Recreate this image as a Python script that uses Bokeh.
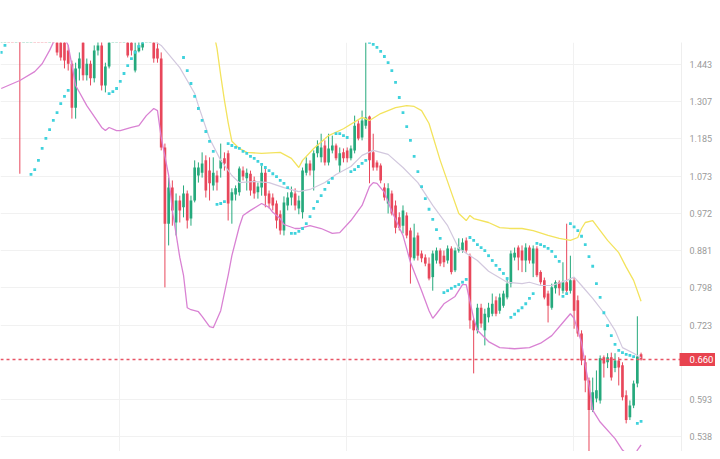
from bokeh.plotting import figure
from bokeh.models import Range1d, FixedTicker, PrintfTickFormatter, Label, ColumnDataSource
from bokeh.embed import file_html
from bokeh.resources import INLINE

# ---------------- data ----------------
open_ = [1.62, 1.66, 1.70, 1.67, 1.64, 1.68, 1.62, 1.66, 1.70, 1.74,
         1.71, 1.68, 1.64, 1.61, 1.63, 1.59, 1.55, 1.54, 1.498, 1.446,
         1.287, 1.428, 1.53, 1.402, 1.446, 1.391, 1.498, 1.518, 1.365, 1.435,
         1.56, 1.60, 1.64, 1.61, 1.62, 1.53, 1.420, 1.495, 1.51, 1.56,
         1.60, 1.63, 1.506, 1.466, 1.158, 0.946, 1.041, 0.949, 1.006, 0.988,
         1.025, 0.959, 1.006, 1.075, 1.083, 1.119, 1.089, 1.047, 1.075, 1.095,
         1.125, 1.140, 1.006, 1.022, 1.028, 1.089, 1.067, 1.080, 1.061, 1.028,
         1.041, 1.083, 1.025, 1.014, 0.998, 0.970, 0.929, 0.993, 1.014, 1.025,
         0.985, 0.975, 1.083, 1.110, 1.089, 1.140, 1.128, 1.164, 1.113, 1.149,
         1.164, 1.104, 1.143, 1.149, 1.125, 1.149, 1.234, 1.189, 1.227, 1.257,
         1.143, 1.113, 1.104, 1.041, 0.998, 1.025, 0.993, 0.962, 0.941, 0.967,
         0.929, 0.863, 0.917, 0.874, 0.865, 0.851, 0.821, 0.858, 0.881, 0.869,
         0.858, 0.886, 0.836, 0.881, 0.881, 0.905, 0.869, 0.732, 0.713, 0.757,
         0.713, 0.738, 0.745, 0.772, 0.751, 0.761, 0.778, 0.807, 0.865, 0.888,
         0.881, 0.858, 0.888, 0.851, 0.886, 0.832, 0.814, 0.786, 0.757, 0.797,
         0.810, 0.792, 0.810, 0.792, 0.814, 0.772, 0.707, 0.655, 0.624, 0.577,
         0.595, 0.592, 0.664, 0.655, 0.664, 0.645, 0.658, 0.650, 0.600, 0.566,
         0.584, 0.619, 0.669]

close = [1.66, 1.70, 1.67, 1.64, 1.68, 1.62, 1.66, 1.70, 1.74, 1.71,
         1.68, 1.64, 1.61, 1.63, 1.59, 1.490, 1.470, 1.458, 1.446, 1.287,
         1.428, 1.466, 1.402, 1.446, 1.391, 1.498, 1.518, 1.365, 1.435, 1.56,
         1.60, 1.64, 1.61, 1.65, 1.478, 1.498, 1.498, 1.518, 1.56, 1.60,
         1.63, 1.466, 1.466, 1.158, 0.946, 1.041, 0.980, 1.006, 0.980, 1.025,
         0.954, 1.006, 1.098, 1.098, 1.110, 1.033, 1.053, 1.083, 1.055, 1.119,
         1.110, 0.998, 1.028, 1.039, 1.095, 1.072, 1.083, 1.033, 1.025, 1.044,
         1.083, 1.019, 0.998, 0.993, 0.954, 0.929, 1.001, 1.014, 1.028, 0.993,
         1.006, 1.089, 1.110, 1.089, 1.140, 1.164, 1.158, 1.113, 1.155, 1.164,
         1.125, 1.140, 1.125, 1.125, 1.155, 1.227, 1.186, 1.244, 1.254, 1.119,
         1.098, 1.098, 1.061, 1.014, 1.039, 0.972, 0.936, 0.936, 0.980, 0.917,
         0.865, 0.912, 0.869, 0.863, 0.851, 0.818, 0.874, 0.881, 0.851, 0.854,
         0.886, 0.832, 0.881, 0.888, 0.900, 0.881, 0.732, 0.713, 0.757, 0.726,
         0.745, 0.757, 0.765, 0.745, 0.778, 0.786, 0.807, 0.874, 0.876, 0.865,
         0.858, 0.888, 0.858, 0.886, 0.825, 0.810, 0.778, 0.761, 0.799, 0.810,
         0.797, 0.810, 0.792, 0.814, 0.751, 0.707, 0.658, 0.624, 0.577, 0.605,
         0.608, 0.662, 0.653, 0.664, 0.629, 0.658, 0.646, 0.597, 0.562, 0.584,
         0.619, 0.665, 0.660]

high = [1.69, 1.73, 1.74, 1.71, 1.70, 1.71, 1.68, 1.73, 1.76, 1.77,
        1.74, 1.70, 1.66, 1.66, 1.65, 1.61, 1.57, 1.56, 1.518, 1.458,
        1.450, 1.490, 1.55, 1.466, 1.458, 1.518, 1.535, 1.535, 1.450, 1.58,
        1.62, 1.66, 1.67, 1.68, 1.64, 1.55, 1.53, 1.535, 1.58, 1.62,
        1.66, 1.65, 1.53, 1.490, 1.170, 1.069, 1.061, 1.025, 1.019, 1.047,
        1.033, 1.019, 1.119, 1.113, 1.143, 1.134, 1.128, 1.128, 1.089, 1.170,
        1.143, 1.149, 1.039, 1.047, 1.101, 1.101, 1.095, 1.089, 1.072, 1.055,
        1.104, 1.095, 1.033, 1.025, 1.006, 0.980, 1.017, 1.028, 1.044, 1.039,
        1.019, 1.098, 1.128, 1.119, 1.149, 1.180, 1.201, 1.180, 1.201, 1.195,
        1.170, 1.158, 1.155, 1.158, 1.164, 1.260, 1.244, 1.277, 1.530, 1.260,
        1.201, 1.119, 1.110, 1.053, 1.053, 1.033, 1.006, 0.975, 0.993, 0.975,
        0.936, 0.946, 0.924, 0.881, 0.872, 0.865, 0.881, 0.888, 0.886, 0.881,
        0.893, 0.891, 0.888, 0.910, 0.910, 0.912, 0.874, 0.736, 0.765, 0.765,
        0.755, 0.767, 0.786, 0.780, 0.786, 0.792, 0.820, 0.881, 0.888, 0.893,
        0.893, 0.898, 0.893, 0.893, 0.891, 0.836, 0.820, 0.792, 0.807, 0.814,
        0.814, 0.854, 0.946, 0.869, 0.820, 0.782, 0.713, 0.667, 0.629, 0.629,
        0.641, 0.667, 0.667, 0.671, 0.672, 0.671, 0.664, 0.655, 0.608, 0.592,
        0.624, 0.740, 0.672]

low = [1.58, 1.64, 1.63, 1.60, 1.61, 1.080, 1.59, 1.64, 1.68, 1.68,
       1.65, 1.61, 1.58, 1.57, 1.56, 1.478, 1.458, 1.428, 1.420, 1.250,
       1.250, 1.383, 1.383, 1.383, 1.365, 1.376, 1.478, 1.347, 1.340, 1.428,
       1.545, 1.58, 1.59, 1.60, 1.470, 1.478, 1.413, 1.490, 1.498, 1.545,
       1.58, 1.450, 1.450, 1.149, 0.799, 0.893, 0.941, 0.917, 0.949, 0.962,
       0.934, 0.941, 1.001, 1.055, 1.069, 1.014, 1.006, 1.033, 1.033, 1.069,
       1.089, 0.954, 0.946, 1.006, 1.019, 1.061, 1.033, 1.019, 1.011, 1.011,
       1.019, 0.988, 0.985, 0.980, 0.934, 0.919, 0.917, 0.980, 0.993, 0.980,
       0.970, 0.959, 1.075, 1.075, 1.033, 1.128, 1.113, 1.104, 1.104, 1.140,
       1.119, 1.083, 1.113, 1.113, 1.119, 1.140, 1.180, 1.180, 1.217, 1.053,
       1.089, 1.089, 1.053, 1.006, 0.972, 0.967, 0.922, 0.929, 0.922, 0.910,
       0.807, 0.858, 0.858, 0.854, 0.845, 0.814, 0.792, 0.851, 0.845, 0.843,
       0.851, 0.827, 0.832, 0.876, 0.876, 0.876, 0.716, 0.636, 0.707, 0.718,
       0.685, 0.728, 0.740, 0.740, 0.745, 0.757, 0.774, 0.799, 0.858, 0.836,
       0.832, 0.832, 0.851, 0.821, 0.821, 0.805, 0.774, 0.728, 0.753, 0.786,
       0.782, 0.786, 0.788, 0.786, 0.716, 0.701, 0.650, 0.605, 0.492, 0.574,
       0.589, 0.587, 0.629, 0.645, 0.624, 0.638, 0.616, 0.592, 0.557, 0.562,
       0.580, 0.613, 0.658]

# Bollinger bands (upper / middle / lower), read at candle positions
upper_idx = [57, 58, 59, 60, 61, 62, 64, 66, 70, 75, 78, 80, 81, 84, 88, 92, 97, 99, 102, 106,
             109, 111, 113, 115, 118, 121, 123, 125, 126, 127, 131, 134, 137, 140, 143, 147, 150,
             153, 155, 156, 157, 159, 160, 163, 166, 168, 170, 172]
upper = [1.579, 1.506, 1.402, 1.312, 1.237, 1.177, 1.155, 1.143, 1.140, 1.143, 1.125, 1.098, 1.119,
         1.155, 1.195, 1.217, 1.254, 1.244, 1.267, 1.287, 1.294, 1.291, 1.277, 1.234, 1.119, 1.028,
         0.972, 0.954, 0.967, 0.959, 0.949, 0.936, 0.934, 0.934, 0.929, 0.917, 0.910, 0.905, 0.912,
         0.934, 0.949, 0.954, 0.941, 0.905, 0.876, 0.843, 0.814, 0.770]

mid_idx = [40, 43, 48, 52, 53, 56, 59, 62, 64, 68, 72, 76, 80, 83, 87, 90, 94, 97, 100, 104,
           108, 112, 116, 120, 123, 128, 131, 136, 140, 142, 145, 148, 152, 154, 156, 159, 162,
           165, 167, 170, 172]
mid = [1.546, 1.518, 1.431, 1.336, 1.294, 1.186, 1.119, 1.075, 1.055, 1.058, 1.055, 1.041, 1.030,
       1.036, 1.055, 1.078, 1.101, 1.134, 1.149, 1.137, 1.098, 1.055, 0.993, 0.941, 0.886, 0.858,
       0.834, 0.810, 0.807, 0.810, 0.803, 0.803, 0.814, 0.821, 0.803, 0.776, 0.747, 0.713, 0.681,
       0.671, 0.663]

lower_idx = [0, 5, 9, 11, 13, 14, 15, 16, 18, 20, 23, 27, 28, 29, 31, 32, 35, 37, 39, 41,
             42, 43, 45, 46, 48, 49, 50, 51, 53, 54, 56, 57, 59, 61, 62, 64, 65, 67, 70, 72,
             73, 75, 76, 79, 80, 83, 86, 89, 91, 94, 97, 99, 100, 101, 103, 105, 108, 110, 113,
             115, 116, 117, 119, 122, 124, 125, 127, 128, 131, 134, 138, 142, 145, 148, 151, 153,
             154, 156, 157, 158, 159, 161, 165, 167, 170, 171, 172]
lower = [1.354, 1.383, 1.416, 1.446, 1.498, 1.530, 1.558, 1.579, 1.518, 1.365, 1.294, 1.221, 1.211,
         1.221, 1.211, 1.211, 1.221, 1.227, 1.260, 1.284, 1.277, 1.189, 1.075, 0.980, 0.865, 0.825,
         0.757, 0.753, 0.749, 0.740, 0.720, 0.718, 0.751, 0.825, 0.869, 0.939, 0.967, 0.980, 0.998,
         0.988, 0.975, 0.959, 0.944, 0.934, 0.934, 0.941, 0.934, 0.922, 0.924, 0.954, 0.993, 1.044,
         1.055, 1.053, 1.028, 0.978, 0.917, 0.854, 0.792, 0.751, 0.736, 0.745, 0.765, 0.780, 0.805,
         0.805, 0.736, 0.713, 0.692, 0.681, 0.679, 0.681, 0.689, 0.703, 0.728, 0.745, 0.736, 0.690,
         0.650, 0.616, 0.577, 0.559, 0.535, 0.519, 0.506, 0.519, 0.526]

# Parabolic SAR dots
sar_idx = [0, 1] + list(range(8, 19)) + list(range(29, 39)) + list(range(49, 173))
sar = [1.490, 1.518,
       1.078, 1.092, 1.119, 1.155, 1.186, 1.214, 1.244, 1.270, 1.301, 1.326, 1.347,
       1.336, 1.343, 1.354, 1.380, 1.409, 1.439, 1.466, 1.490, 1.514, 1.530,
       1.470, 1.420, 1.372, 1.326, 1.284, 1.244, 1.208, 1.177, 1.146,
       0.996, 0.998, 1.003,
       1.170, 1.164, 1.158, 1.155, 1.146, 1.140, 1.131, 1.125, 1.116, 1.107, 1.098, 1.089,
       1.080, 1.072, 1.061, 1.053, 1.041,
       0.922, 0.922, 0.927, 0.934, 0.946, 0.964, 0.985, 1.003, 1.019, 1.036, 1.055, 1.067,
       1.201, 1.201, 1.195, 1.189,
       1.086, 1.092, 1.101, 1.110, 1.119,
       1.530, 1.522, 1.510, 1.494, 1.474, 1.450, 1.420, 1.376, 1.322, 1.270, 1.224, 1.180,
       1.131, 1.086, 1.044, 1.011, 0.983, 0.957, 0.931, 0.910,
       0.788, 0.792, 0.797, 0.801, 0.805, 0.810, 0.816,
       0.912, 0.905, 0.895, 0.888, 0.881, 0.869, 0.858, 0.847, 0.838, 0.829, 0.818,
       0.738, 0.744, 0.751, 0.757, 0.765, 0.776, 0.786,
       0.898, 0.895, 0.891, 0.886, 0.879, 0.867, 0.856,
       0.780, 0.786,
       0.946, 0.938, 0.929, 0.915, 0.895, 0.867, 0.845, 0.807, 0.778, 0.747, 0.722, 0.703,
       0.687, 0.676, 0.672, 0.669, 0.667, 0.665,
       0.557, 0.560]

price_ticks = [1.443, 1.307, 1.185, 1.073, 0.972, 0.881, 0.798, 0.723, 0.593, 0.538]
time_ticks = [31.8, 92.8, 153.8]
last_price = 0.660

n = len(close)
assert len(open_) == n and len(high) == n and len(low) == n, (len(open_), len(high), len(low), n)
assert len(sar) == len(sar_idx), (len(sar), len(sar_idx))
assert len(upper) == len(upper_idx) and len(mid) == len(mid_idx) and len(lower) == len(lower_idx)

GREEN = "#25a97c"
RED = "#e8475b"
idx = list(range(n))
colors = [GREEN if c >= o else RED for o, c in zip(open_, close)]
src = ColumnDataSource(dict(x=idx, o=open_, c=close, h=high, l=low,
                            top=[max(o, c) for o, c in zip(open_, close)],
                            bot=[min(o, c) for o, c in zip(open_, close)],
                            color=colors))

p = figure(frame_width=681, frame_height=409, output_backend="svg", toolbar_location=None,
           y_axis_type="log", y_axis_location="right", x_axis_location=None,
           x_range=Range1d(-0.199, 182.87), y_range=Range1d(0.5170, 1.5297),
           min_border_left=0, min_border_right=0, min_border_top=42, min_border_bottom=0)
p.outline_line_color = None
p.background_fill_color = "white"
p.border_fill_color = "white"

# grid
p.ygrid.ticker = FixedTicker(ticks=price_ticks)
p.ygrid.grid_line_color = "#f1f1f1"
p.xgrid.ticker = FixedTicker(ticks=time_ticks)
p.xgrid.grid_line_color = "#f1f1f1"

# axis
ax = p.yaxis[0]
ax.ticker = FixedTicker(ticks=price_ticks)
ax.formatter = PrintfTickFormatter(format="%.3f")
ax.major_label_text_font = "Roboto"
ax.major_label_text_font_size = "9px"
ax.major_label_text_color = "#9a9a9a"
ax.axis_line_color = "#eeeeee"
ax.major_tick_line_color = None
ax.minor_tick_line_color = None
ax.major_tick_out = 0
ax.major_tick_in = 0
ax.major_label_standoff = 8

# candles
p.segment(x0="x", y0="h", x1="x", y1="l", line_color="color", line_width=1, source=src)
p.vbar(x="x", width=0.72, top="top", bottom="bot", fill_color="color", line_color=None,
       source=src)

# bands
p.line(upper_idx, upper, line_color="#f3e35d", line_width=1.3)
p.line(mid_idx, mid, line_color="#d2c8de", line_width=1.2)
p.line(lower_idx, lower, line_color="#d982d3", line_width=1.3)

# SAR
p.scatter(sar_idx, sar, marker="square", size=2.8, fill_color="#3fd2dc", line_color=None)

# last price line and its tag (tag lives in a side panel so it is not clipped to the frame)
p.hspan(y=[last_price], line_color="#e85566", line_dash="3 3", line_width=1.3)
tag = Label(x=188.24, y=last_price, text=f"{last_price:.3f}", text_font="Roboto",
            text_font_size="9.5px", text_color="white", text_baseline="middle",
            text_align="center", background_fill_color="#e8434f", padding=(10, 3))
p.add_layout(tag, "above")

open("out.html", "w").write(file_html(p, INLINE))
